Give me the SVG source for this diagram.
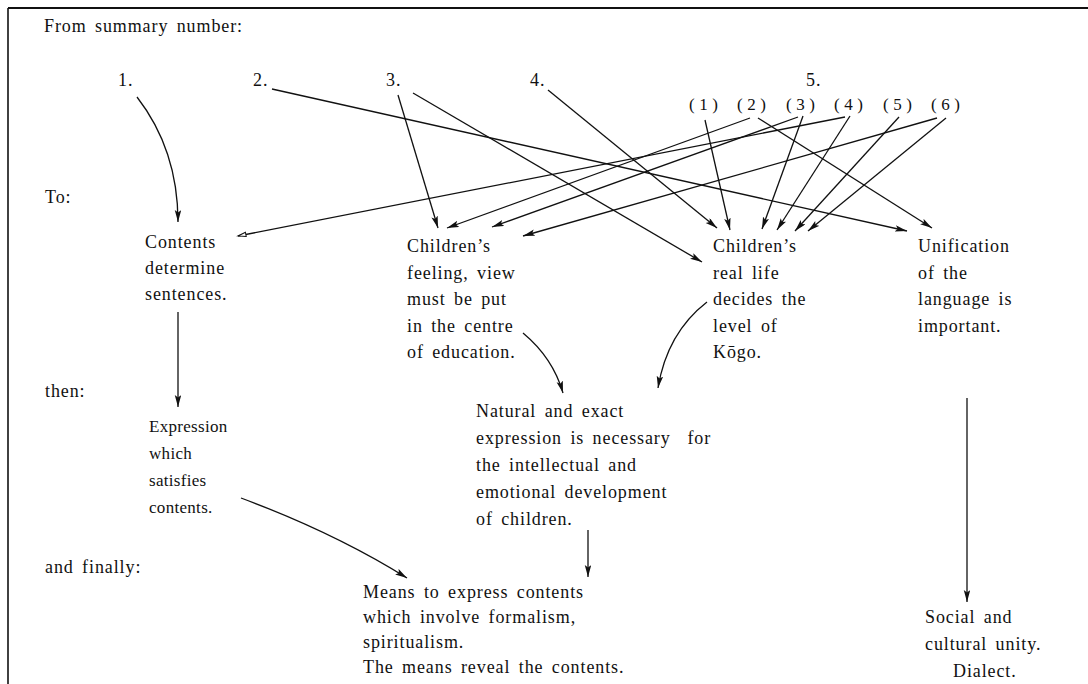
<svg xmlns="http://www.w3.org/2000/svg" width="1088" height="684" viewBox="0 0 1088 684">
<style>
.t{font-family:"Liberation Serif","Times New Roman",serif;font-size:18px;letter-spacing:0.9px;word-spacing:3px;fill:#111}
.s{font-family:"Liberation Serif","Times New Roman",serif;font-size:17px;letter-spacing:0.3px;fill:#111}
.p{font-family:"Liberation Serif","Times New Roman",serif;font-size:17px;letter-spacing:4.5px;fill:#111}
.c{fill:none;stroke:#111;stroke-width:1.3}
.a{marker-end:url(#ah)}
.o{marker-end:url(#ao)}
</style>
<defs>
<marker id="ah" markerUnits="userSpaceOnUse" markerWidth="14" markerHeight="8" refX="12" refY="3.25" orient="auto"><path d="M0,0 L12,3.25 L0,6.5 L2.5,3.25 z" fill="#111"/></marker>
<marker id="ao" markerUnits="userSpaceOnUse" markerWidth="12" markerHeight="8" refX="9" refY="3" orient="auto"><path d="M1,0.8 L9,3 L1,5.2 z" fill="#fff" stroke="#111" stroke-width="1"/></marker>
</defs>
<rect width="1088" height="684" fill="#fff"/>
<g id="frame" fill="none" stroke="#111">
<line x1="8" y1="8" x2="1088" y2="8" stroke-width="2"/>
<line x1="8" y1="8" x2="8" y2="684" stroke-width="1.6"/>
</g>
<g id="row-labels">
<text class="t" x="44" y="32">From summary number:</text>
<text class="t" x="45" y="203">To:</text>
<text class="t" x="45" y="397">then:</text>
<text class="t" x="45" y="573">and finally:</text>
</g>
<g id="src1"><text class="t" x="118" y="86">1.</text></g>
<g id="src2"><text class="t" x="253" y="86">2.</text></g>
<g id="src3"><text class="t" x="386" y="86">3.</text></g>
<g id="src4"><text class="t" x="530" y="86">4.</text></g>
<g id="src5">
<text class="t" x="806" y="86">5.</text>
<text class="p" x="689" y="110">(1)</text>
<text class="p" x="737" y="110">(2)</text>
<text class="p" x="786" y="110">(3)</text>
<text class="p" x="834" y="110">(4)</text>
<text class="p" x="883" y="110">(5)</text>
<text class="p" x="931" y="110">(6)</text>
</g>
<g id="n-contents">
<text class="t" x="145" y="248">Contents</text>
<text class="t" x="145" y="274">determine</text>
<text class="t" x="145" y="300">sentences.</text>
</g>
<g id="n-feeling">
<text class="t" x="407" y="252">Children’s</text>
<text class="t" x="407" y="278.5">feeling, view</text>
<text class="t" x="407" y="305">must be put</text>
<text class="t" x="407" y="331.5">in the centre</text>
<text class="t" x="407" y="358">of education.</text>
</g>
<g id="n-reallife">
<text class="t" x="713" y="252">Children’s</text>
<text class="t" x="713" y="278.5">real life</text>
<text class="t" x="713" y="305">decides the</text>
<text class="t" x="713" y="331.5">level of</text>
<text class="t" x="713" y="358">Kōgo.</text>
</g>
<g id="n-unification">
<text class="t" x="918" y="252">Unification</text>
<text class="t" x="918" y="278.5">of the</text>
<text class="t" x="918" y="305">language is</text>
<text class="t" x="918" y="331.5">important.</text>
</g>
<g id="n-expression">
<text class="s" x="149" y="432">Expression</text>
<text class="s" x="149" y="459">which</text>
<text class="s" x="149" y="486">satisfies</text>
<text class="s" x="149" y="513">contents.</text>
</g>
<g id="n-natural">
<text class="t" x="476" y="417">Natural and exact</text>
<text class="t" x="476" y="444" xml:space="preserve">expression is necessary  for</text>
<text class="t" x="476" y="471">the intellectual and</text>
<text class="t" x="476" y="498">emotional development</text>
<text class="t" x="476" y="525">of children.</text>
</g>
<g id="n-means">
<text class="t" x="363" y="598">Means to express contents</text>
<text class="t" x="363" y="623">which involve formalism,</text>
<text class="t" x="363" y="648">spiritualism.</text>
<text class="t" x="363" y="673">The means reveal the contents.</text>
</g>
<g id="n-social">
<text class="t" x="925" y="623">Social and</text>
<text class="t" x="925" y="650">cultural unity.</text>
<text class="t" x="953" y="677">Dialect.</text>
</g>
<g id="connectors">
<path class="c a" d="M137,97 Q178,150 178,222"/>
<line class="c a" x1="272" y1="89" x2="907" y2="231"/>
<line class="c a" x1="398" y1="95" x2="438" y2="228"/>
<line class="c a" x1="413" y1="93" x2="702" y2="262"/>
<line class="c a" x1="548" y1="90" x2="717" y2="228"/>
<line class="c a" x1="705" y1="120" x2="730" y2="230"/>
<line class="c a" x1="750" y1="118" x2="447" y2="228"/>
<line class="c a" x1="758" y1="118" x2="932" y2="228"/>
<line class="c a" x1="798" y1="117" x2="492" y2="227"/>
<line class="c a" x1="803" y1="116" x2="762" y2="229"/>
<line class="c o" x1="845" y1="117" x2="238" y2="236"/>
<line class="c a" x1="850" y1="116" x2="777" y2="230"/>
<line class="c a" x1="899" y1="117" x2="795" y2="231"/>
<line class="c a" x1="937" y1="118" x2="523" y2="236"/>
<line class="c a" x1="946" y1="118" x2="808" y2="231"/>
<line class="c a" x1="178" y1="312" x2="178" y2="407"/>
<path class="c a" d="M523,333 Q553,358 563,393"/>
<path class="c a" d="M707,302 Q667,333 658,388"/>
<path class="c a" d="M241,498 Q335,533 407,578"/>
<line class="c a" x1="588" y1="530" x2="588" y2="577"/>
<line class="c a" x1="967" y1="398" x2="967" y2="602"/>
</g>
</svg>
